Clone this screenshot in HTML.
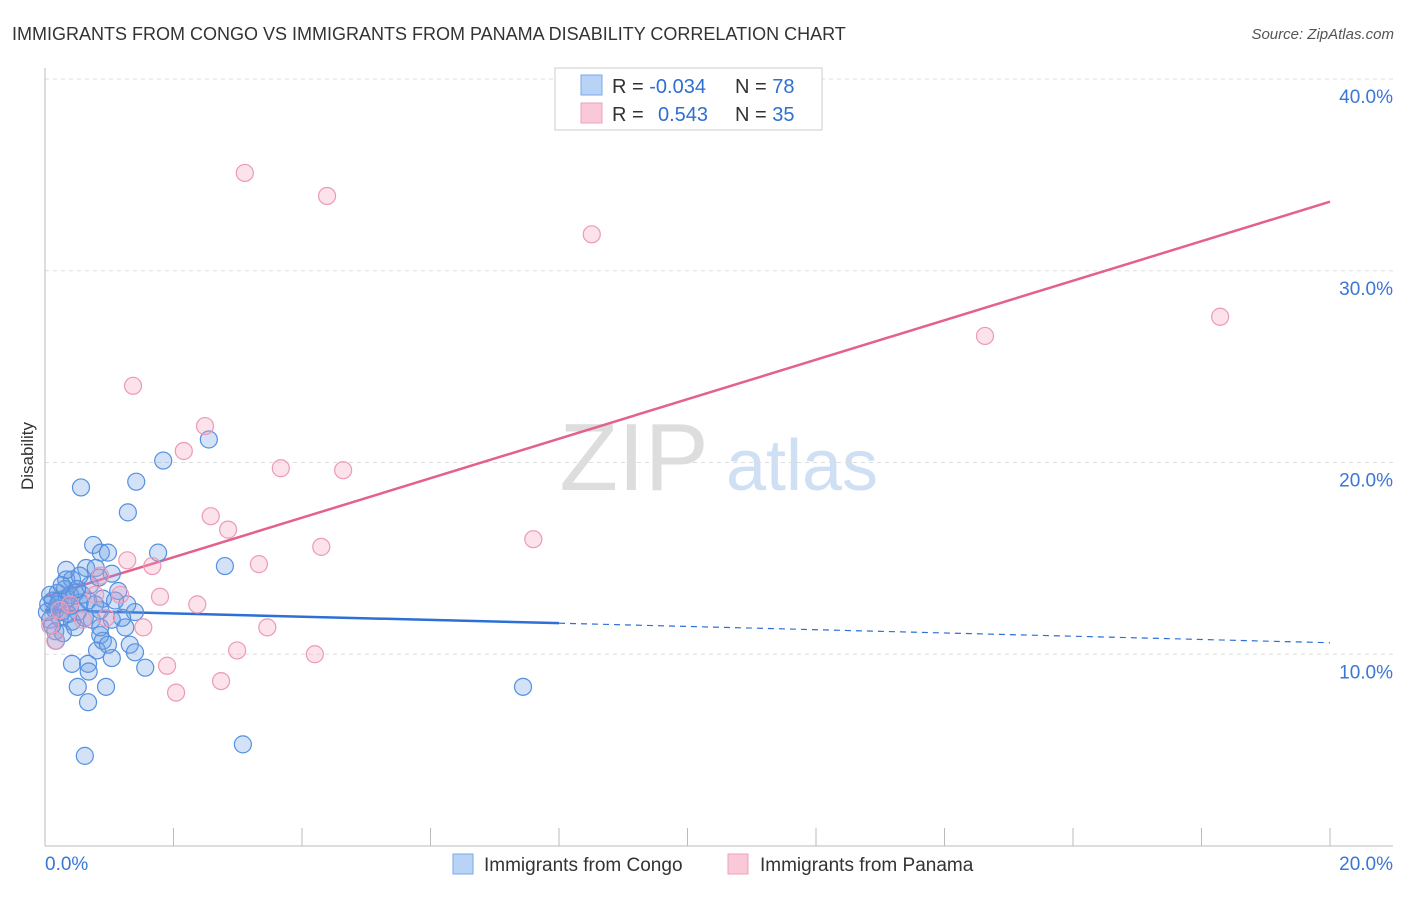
<!DOCTYPE html>
<html><head><meta charset="utf-8">
<style>
body{margin:0;background:#fff;font-family:"Liberation Sans",sans-serif;}
svg text{font-family:"Liberation Sans",sans-serif;}
</style></head>
<body>
<svg id="chart" width="1406" height="892" xmlns="http://www.w3.org/2000/svg">
<text x="12" y="40" font-size="18" fill="#333">IMMIGRANTS FROM CONGO VS IMMIGRANTS FROM PANAMA DISABILITY CORRELATION CHART</text>
<text x="1394" y="39" font-size="15" fill="#555" text-anchor="end" font-style="italic">Source: ZipAtlas.com</text>
<text transform="translate(33,456) rotate(-90)" font-size="17" fill="#333" text-anchor="middle">Disability</text>
<g>
<text x="634" y="490" font-size="96" fill="#ddd" text-anchor="middle" font-family="Liberation Serif">ZIP</text>
<text x="802" y="490" font-size="72" fill="#cfe0f4" text-anchor="middle">atlas</text>
</g>
<g id="grid"></g>
<g id="axes"></g>
<g id="lines"></g>
<g id="pts"></g>
<g>
<rect x="555" y="68" width="267" height="62" fill="#fff" stroke="#ccc"/>
<rect x="581" y="75" width="21" height="20" fill="#b8d3f5" stroke="#7aa8e8"/>
<rect x="581" y="103" width="21" height="20" fill="#f9c9d8" stroke="#eea0ba"/>
<text x="612" y="93" font-size="20" fill="#333">R = <tspan fill="#2f6fd0">-0.034</tspan></text>
<text x="735" y="93" font-size="20" fill="#333">N = <tspan fill="#2f6fd0">78</tspan></text>
<text x="612" y="121" font-size="20" fill="#333">R = <tspan fill="#2f6fd0" x="658">0.543</tspan></text>
<text x="735" y="121" font-size="20" fill="#333">N = <tspan fill="#2f6fd0">35</tspan></text>
</g>
<g>
<rect x="453" y="854" width="20" height="20" fill="#b8d3f5" stroke="#7aa8e8"/>
<text x="484" y="871" font-size="19" fill="#333">Immigrants from Congo</text>
<rect x="728" y="854" width="20" height="20" fill="#f9c9d8" stroke="#eea0ba"/>
<text x="760" y="871" font-size="19" fill="#333">Immigrants from Panama</text>
</g>
</svg>
<script>
const yTicks=[10,20,30,40];
const yTickLabels=["10.0%","20.0%","30.0%","40.0%"];
const xTicks=[0,2,4,6,8,10,12,14,16,18,20];
const congoX=[2.55,1.84,0.56,1.42,1.29,0.75,1.76,0.87,0.98,2.80,0.64,0.79,1.04,0.33,0.42,0.84,0.08,0.20,0.31,0.47,0.67,0.90,0.23,0.54,0.39,0.78,0.16,0.26,0.51,1.40,1.28,0.08,0.23,0.42,0.62,1.04,1.25,0.16,0.28,0.86,1.32,0.81,1.40,1.04,1.56,0.42,0.67,0.68,0.51,0.95,0.67,0.62,3.08,7.44,0.05,0.11,0.34,0.70,1.14,0.90,0.47,0.17,0.33,0.54,0.39,0.58,0.20,0.03,0.73,1.20,0.98,0.36,0.86,1.09,0.50,0.26,0.12,0.86];
const congoY=[21.2,20.1,18.7,19.0,17.4,15.7,15.3,15.3,15.3,14.6,14.5,14.5,14.2,13.9,13.9,14.0,13.1,13.2,13.4,13.2,12.8,12.9,12.8,12.7,12.5,12.6,12.3,12.2,12.2,12.2,12.6,11.8,11.9,11.7,11.9,11.8,11.4,11.2,11.1,11.0,10.5,10.2,10.1,9.8,9.3,9.5,9.5,9.1,8.3,8.3,7.5,4.7,5.3,8.3,12.6,11.5,12.9,13.6,13.3,10.7,11.4,10.7,14.4,14.1,13.1,13.1,12.6,12.2,11.8,11.9,10.5,12.1,11.4,12.8,13.4,13.6,12.8,12.3];
const panamaX=[3.11,4.39,8.51,18.29,14.63,1.37,2.49,2.16,3.67,4.64,2.58,2.85,4.30,7.60,1.28,1.67,3.33,1.79,2.37,1.53,3.46,2.99,4.20,1.90,2.74,2.04,0.95,0.59,0.23,0.08,0.39,0.78,1.17,0.16,0.86];
const panamaY=[35.1,33.9,31.9,27.6,26.6,24.0,21.9,20.6,19.7,19.6,17.2,16.5,15.6,16.0,14.9,14.6,14.7,13.0,12.6,11.4,11.4,10.2,10.0,9.4,8.6,8.0,11.9,11.8,12.3,11.5,12.6,13.1,13.1,10.7,14.1];
const congoTrend=[12.3,-0.085];
const panamaTrend=[13.0,1.03];

const NS="http://www.w3.org/2000/svg";
const X0=45,X1=1330,Y0=846,Y40=79;
const sx=v=>X0+(X1-X0)*v/20;
const sy=v=>Y0-(Y0-Y40)*v/40;
function mk(t,a,p){const e=document.createElementNS(NS,t);for(const k in a)e.setAttribute(k,a[k]);p.appendChild(e);return e;}
const grid=document.getElementById('grid'),axes=document.getElementById('axes'),lines=document.getElementById('lines'),pts=document.getElementById('pts');
yTicks.forEach((v,i)=>{
 const l=mk('line',{x1:X0,x2:1393,y1:sy(v),y2:sy(v),stroke:'#ddd','stroke-dasharray':'4,4'},grid);
 
 
 const t=mk('text',{x:1393,y:sy(v)+24,'font-size':19,fill:'#3a76d4','text-anchor':'end'},grid);
 t.textContent=yTickLabels[i];
 
 
});
const ax=mk('line',{x1:X0,x2:1393,y1:Y0,y2:Y0,stroke:'#bbb'},axes);


const ay=mk('line',{x1:X0,x2:X0,y1:68,y2:Y0,stroke:'#bbb'},axes);


xTicks.forEach(v=>{
 const t=mk('line',{x1:sx(v),x2:sx(v),y1:828,y2:Y0,stroke:'#bbb'},axes);
 
 
});
const xl0=mk('text',{x:45,y:870,'font-size':19,fill:'#3a76d4'},axes);xl0.textContent='0.0%';


const xl1=mk('text',{x:1393,y:870,'font-size':19,fill:'#3a76d4','text-anchor':'end'},axes);xl1.textContent='20.0%';



congoX.forEach((x,i)=>{
 const c=mk('circle',{cx:sx(x),cy:sy(congoY[i]),r:8.5,fill:'rgba(110,160,230,0.3)',stroke:'#5590e0','stroke-width':1.2},pts);
 
 
});
panamaX.forEach((x,i)=>{
 const c=mk('circle',{cx:sx(x),cy:sy(panamaY[i]),r:8.5,fill:'rgba(245,160,190,0.3)',stroke:'#ec9ab5','stroke-width':1.2},pts);
 
 
});
const bt=x=>congoTrend[0]+congoTrend[1]*x, pt=x=>panamaTrend[0]+panamaTrend[1]*x;
const b1=mk('line',{x1:sx(0),y1:sy(bt(0)),x2:sx(8),y2:sy(bt(8)),stroke:'#2c6fd6','stroke-width':2.5},lines);


const b2=mk('line',{x1:sx(8),y1:sy(bt(8)),x2:sx(20),y2:sy(bt(20)),stroke:'#2c6fd6','stroke-width':1.2,'stroke-dasharray':'6,5'},lines);


const p1=mk('line',{x1:sx(0),y1:sy(pt(0)),x2:sx(20),y2:sy(pt(20)),stroke:'#e4618e','stroke-width':2.5},lines);


</script>
</body></html>
